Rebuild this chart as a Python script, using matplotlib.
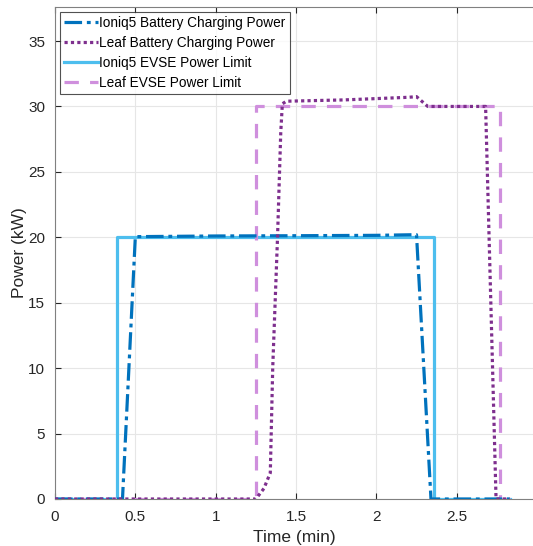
import matplotlib
matplotlib.use("Agg")
import matplotlib.pyplot as plt

plt.rcParams['font.family'] = ['Liberation Sans', 'DejaVu Sans']

# czasy (min) i moce (kW)
ioniq_bat_t = [0, 0.42, 0.50, 1.0, 1.5, 2.0, 2.25, 2.34, 2.83]
ioniq_bat_p = [0, 0, 20.05, 20.1, 20.12, 20.15, 20.2, 0, 0]

leaf_bat_t = [0, 1.25, 1.30, 1.34, 1.355, 1.385, 1.405, 1.415, 1.44,
              1.8, 2.0, 2.2, 2.25, 2.32, 2.68, 2.745, 2.83]
leaf_bat_p = [0, 0, 0.8, 2.0, 10, 20, 28, 30.2, 30.4,
              30.5, 30.6, 30.7, 30.75, 30.0, 30.0, 0, 0]

ioniq_evse_t = [0, 0.383, 0.383, 2.357, 2.357, 2.83]
ioniq_evse_p = [0, 0, 20, 20, 0, 0]

leaf_evse_t = [0, 1.254, 1.254, 2.77, 2.77, 2.83]
leaf_evse_p = [0, 0, 30, 30, 0, 0]

fig = plt.figure(figsize=(5.33, 5.46), dpi=100)
ax = fig.add_axes([55 / 533, 47 / 546, 478 / 533, 492 / 546])

ax.plot(ioniq_bat_t, ioniq_bat_p, color='#0072BD', lw=2.3, ls='-.',
        dashes=(5.5, 1.5, 1.2, 1.5), label='Ioniq5 Battery Charging Power', zorder=4)
ax.plot(leaf_bat_t, leaf_bat_p, color='#7E2F8E', lw=2.3, ls=':',
        dashes=(1, 1), label='Leaf Battery Charging Power', zorder=4)
ax.plot(ioniq_evse_t, ioniq_evse_p, color='#4DBEEE', lw=2.3, ls='-',
        label='Ioniq5 EVSE Power Limit', zorder=3)
ax.plot(leaf_evse_t, leaf_evse_p, color='#CF8FDD', lw=2.3, ls='--',
        dashes=(4.5, 3.5), label='Leaf EVSE Power Limit', zorder=3)

ax.set_xlim(0, 2.975)
ax.set_ylim(0, 37.6)
ax.set_xticks([0, 0.5, 1, 1.5, 2, 2.5])
ax.set_xticklabels(['0', '0.5', '1', '1.5', '2', '2.5'])
ax.set_yticks([0, 5, 10, 15, 20, 25, 30, 35])
ax.grid(True, color='#e6e6e6', lw=0.8)
ax.set_axisbelow(True)
ax.tick_params(direction='in', length=4, labelsize=11, colors='#262626',
               top=True, right=False, pad=7)
ax.tick_params(axis='x', pad=8)
for s in ['left', 'bottom', 'top']:
    ax.spines[s].set_color('#808080')
ax.spines['right'].set_visible(False)

ax.set_xlabel('Time (min)', fontsize=12.5, color='#262626', labelpad=4)
ax.set_ylabel('Power (kW)', fontsize=12.5, color='#262626', labelpad=1)

leg = ax.legend(loc='upper left', fontsize=9.8, frameon=True, fancybox=False,
                edgecolor='#262626', borderpad=0.3, labelspacing=0.45,
                handlelength=2.5, handletextpad=0.1, borderaxespad=0.35)
leg.get_frame().set_linewidth(0.8)

fig.savefig('out.png', dpi=100)
